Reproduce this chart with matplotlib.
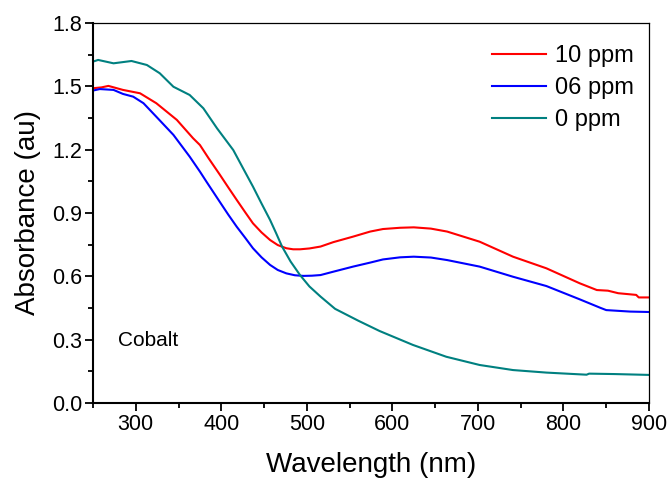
import matplotlib
matplotlib.use('Agg')
import matplotlib.pyplot as plt
from matplotlib.ticker import MultipleLocator, FormatStrFormatter

plt.rcParams['font.family'] = ['Liberation Sans', 'DejaVu Sans']

# 0 ppm (teal)
wl_0 = [250, 256, 274, 295, 313, 328, 344, 363, 379, 395, 414, 425, 437, 447, 457,
        464, 471, 481, 492, 503, 516, 533, 560, 585, 624, 663, 702, 741, 780, 827,
        830, 860, 900]
abs_0 = [1.617, 1.625, 1.609, 1.62, 1.601, 1.562, 1.498, 1.459, 1.396, 1.301, 1.198,
         1.115, 1.025, 0.945, 0.867, 0.805, 0.741, 0.67, 0.606, 0.552, 0.504, 0.446,
         0.39, 0.341, 0.275, 0.219, 0.18, 0.156, 0.144, 0.134, 0.139, 0.137, 0.133]

# 10 ppm (red)
wl_10 = [250, 260, 268, 285, 305, 324, 348, 367, 375, 385, 398, 408, 418, 428, 437,
         447, 457, 466, 476, 484, 492, 503, 516, 531, 554, 574, 589, 609, 625, 645,
         664, 702, 741, 780, 819, 839, 852, 864, 885, 888, 900]
abs_10 = [1.491, 1.495, 1.502, 1.483, 1.467, 1.42, 1.341, 1.254, 1.222, 1.16, 1.083,
          1.022, 0.962, 0.903, 0.851, 0.808, 0.772, 0.748, 0.733, 0.728, 0.728, 0.732,
          0.741, 0.762, 0.788, 0.812, 0.824, 0.83, 0.832, 0.826, 0.812, 0.764, 0.693,
          0.638, 0.567, 0.535, 0.532, 0.52, 0.512, 0.5, 0.5]

# 06 ppm (blue)
wl_06 = [250, 258, 274, 285, 297, 309, 324, 344, 363, 375, 383, 398, 408, 418, 428,
         437, 447, 457, 466, 476, 486, 496, 506, 516, 531, 554, 574, 589, 609, 625,
         645, 664, 702, 741, 780, 819, 843, 850, 878, 900]
abs_06 = [1.48, 1.487, 1.483, 1.464, 1.451, 1.42, 1.356, 1.27, 1.167, 1.096, 1.046,
          0.954, 0.893, 0.835, 0.782, 0.733, 0.69, 0.654, 0.63, 0.614, 0.605, 0.602,
          0.603, 0.606, 0.622, 0.646, 0.665, 0.68, 0.69, 0.693, 0.689, 0.677, 0.646,
          0.598, 0.554, 0.491, 0.451, 0.44, 0.433, 0.431]

fig = plt.figure(figsize=(6.72, 4.86), dpi=100)
ax = fig.add_axes([0.1384, 0.1708, 0.8274, 0.7819])

ax.plot(wl_10, abs_10, color='#ff0000', lw=1.5, label='10 ppm')
ax.plot(wl_06, abs_06, color='#0000ff', lw=1.5, label='06 ppm')
ax.plot(wl_0, abs_0, color='#008080', lw=1.5, label='0 ppm')

ax.set_xlim(250, 900)
ax.set_ylim(0, 1.8)
ax.xaxis.set_major_locator(MultipleLocator(100))
ax.xaxis.set_minor_locator(MultipleLocator(50))
ax.yaxis.set_major_locator(MultipleLocator(0.3))
ax.yaxis.set_minor_locator(MultipleLocator(0.15))
ax.yaxis.set_major_formatter(FormatStrFormatter('%.1f'))

ax.tick_params(which='major', direction='out', length=6, width=1.3, labelsize=15.5, pad=2)
ax.tick_params(which='minor', direction='out', length=3.5, width=1.3)
ax.tick_params(top=False, right=False)

for s in ['left', 'bottom']:
    ax.spines[s].set_linewidth(1.5)
for s in ['top', 'right']:
    ax.spines[s].set_linewidth(0.9)

ax.set_xlabel('Wavelength (nm)', fontsize=20, labelpad=12)
ax.set_ylabel('Absorbance (au)', fontsize=20, labelpad=8)

ax.text(279, 0.294, 'Cobalt', fontsize=15, va='center', ha='left')

ax.legend(loc='upper left', bbox_to_anchor=(0.7176, 0.941), frameon=False,
          fontsize=17, handlelength=2.3, handletextpad=0.35, labelspacing=0.42,
          borderpad=0, borderaxespad=0)

fig.savefig('out.png', dpi=100)
